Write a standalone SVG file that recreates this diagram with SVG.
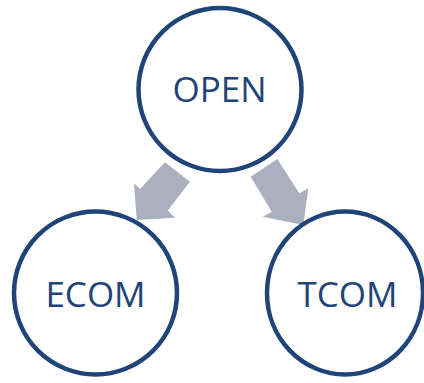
<svg xmlns="http://www.w3.org/2000/svg" width="424" height="383" viewBox="0 0 424 383">
  <style>
    .node { fill: #ffffff; stroke: #1F4477; stroke-width: 4.5; }
    .label { font-family: "Open Sans", "Liberation Sans", sans-serif; font-size: 35px; fill: #1F4477; text-anchor: middle; }
    .arrow { fill: #AAB0BE; stroke: none; }
  </style>
  <rect width="424" height="383" fill="#ffffff"/>

  <!-- block arrows from OPEN down to the two children -->
  <g id="connectors">
    <polygon class="arrow" points="165,162.3 190,181.7 167.7,210.5 175,217.7 136.7,220 134,183.3 140,189"/>
    <polygon class="arrow" points="250.7,176.7 277.3,159 299.3,193.3 308.3,188.3 303.3,225 262.7,216.7 271.7,211.7"/>
  </g>

  <g id="open">
    <circle class="node" cx="220" cy="89.5" r="81.5"/>
    <text class="label" x="219.5" y="102">OPEN</text>
  </g>

  <g id="ecom">
    <circle class="node" cx="95.5" cy="293" r="81.5"/>
    <text class="label" x="95.5" y="307">ECOM</text>
  </g>

  <g id="tcom">
    <ellipse class="node" cx="345" cy="293" rx="78" ry="81.5"/>
    <text class="label" x="347.5" y="307">TCOM</text>
  </g>
</svg>
